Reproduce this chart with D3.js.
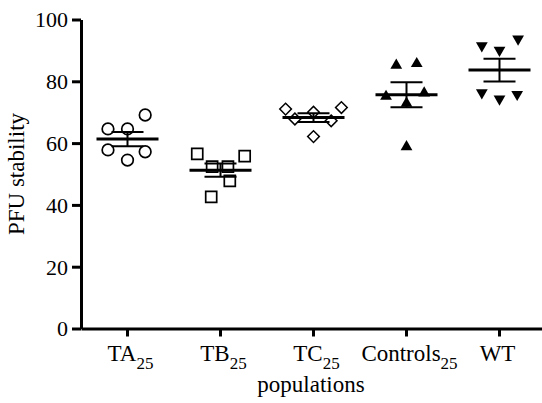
<!DOCTYPE html>
<html>
<head>
<meta charset="utf-8">
<script src="https://cdn.jsdelivr.net/npm/d3@7"></script>
<style>
  body { margin: 0; background: #fff; }
  text { font-family: "Liberation Serif", "Times New Roman", serif; fill: #000; }
</style>
</head>
<body>
<div id="chart"></div>
<script>
// groups on the x axis
let groups = ["TA", "TB", "TC", "Controls", "WT"];
let subs = ["25", "25", "25", "25", ""];

// PFU stability per replicate
let valsTA = [64.6, 64.6, 69.1, 57.8, 57.2, 54.5];
let valsTB = [56.5, 55.8, 52.4, 52.4, 47.8, 42.6];
let valsTC = [71.0, 71.5, 70.0, 67.8, 67.2, 62.1];
let valsControls = [85.2, 85.7, 75.1, 76.2, 72.9, 58.8];
let valsWT = [91.5, 90.1, 93.7, 76.3, 75.8, 74.3];

// horizontal scatter of each replicate, as a fraction of the band
let jitterTA = [-0.21, 0, 0.19, -0.21, 0.19, 0];
let jitterTB = [-0.25, 0.26, -0.09, 0.08, 0.1, -0.1];
let jitterTC = [-0.3, 0.3, 0, -0.2, 0.19, 0];
let jitterControls = [-0.11, 0.11, -0.22, 0.19, 0, 0];
let jitterWT = [-0.19, 0, 0.2, -0.19, 0.19, 0];

let yTicks = [0, 20, 40, 60, 80, 100];

let allVals = [valsTA, valsTB, valsTC, valsControls, valsWT];
let allJitter = [jitterTA, jitterTB, jitterTC, jitterControls, jitterWT];
let shapes = ["circle", "square", "diamond", "triangle", "triangleDown"];

const W = 542, H = 403;
const margin = {top: 19.5, left: 81, bottom: 74.5};

let svg = d3.select("#chart").append("svg")
    .attr("width", W)
    .attr("height", H);

let x = d3.scaleBand()
    .domain(groups)
    .range([margin.left, margin.left + 93 * groups.length])
    .padding(0);

let y = d3.scaleLinear()
    .domain([0, 100])
    .range([H - margin.bottom, margin.top]);

let bw = x.bandwidth();

// points
allVals.forEach((vals, gi) => {
    let cx = x(groups[gi]) + bw / 2;
    let g = svg.append("g");
    let shape = shapes[gi];
    vals.forEach((v, i) => {
        let px = cx + allJitter[gi][i] * bw;
        let py = y(v);
        if (shape === "circle") {
            g.append("circle")
                .attr("cx", px).attr("cy", py).attr("r", 5.8)
                .attr("fill", "none").attr("stroke", "#000").attr("stroke-width", 1.7);
        } else if (shape === "square") {
            g.append("path")
                .attr("d", d3.symbol().type(d3.symbolSquare).size(121)())
                .attr("transform", "translate(" + px + "," + py + ")")
                .attr("fill", "none").attr("stroke", "#000").attr("stroke-width", 1.7);
        } else if (shape === "diamond") {
            g.append("path")
                .attr("d", d3.symbol().type(d3.symbolSquare).size(68)())
                .attr("transform", "translate(" + px + "," + py + ") rotate(45)")
                .attr("fill", "none").attr("stroke", "#000").attr("stroke-width", 1.5);
        } else {
            let rot = shape === "triangleDown" ? 180 : 0;
            g.append("path")
                .attr("d", d3.symbol().type(d3.symbolTriangle).size(60)())
                .attr("transform", "translate(" + px + "," + py + ") rotate(" + rot + ")")
                .attr("fill", "#000");
        }
    });

    // mean and SEM
    let m = d3.mean(vals);
    let sem = d3.deviation(vals) / Math.sqrt(vals.length);
    g.append("line")
        .attr("x1", cx).attr("x2", cx)
        .attr("y1", y(m + sem)).attr("y2", y(m - sem))
        .attr("stroke", "#000").attr("stroke-width", 2);
    [m + sem, m - sem].forEach(s => {
        g.append("line")
            .attr("x1", cx - 16).attr("x2", cx + 16)
            .attr("y1", y(s)).attr("y2", y(s))
            .attr("stroke", "#000").attr("stroke-width", 2);
    });
    g.append("line")
        .attr("x1", cx - 31).attr("x2", cx + 31)
        .attr("y1", y(m)).attr("y2", y(m))
        .attr("stroke", "#000").attr("stroke-width", 3);
});

// y axis
let yAxis = svg.append("g")
    .attr("transform", "translate(" + margin.left + ",0)")
    .call(d3.axisLeft(y).tickValues(yTicks).tickSize(9).tickSizeOuter(0).tickPadding(4));
yAxis.selectAll("path, line").attr("stroke", "#000").attr("stroke-width", 3);
yAxis.selectAll("text")
    .attr("font-size", 22)
    .attr("dy", "0.34em");

// x axis
let xAxis = svg.append("g")
    .attr("transform", "translate(0," + y(0) + ")")
    .call(d3.axisBottom(x).tickSize(8).tickSizeOuter(0));
xAxis.selectAll("path, line").attr("stroke", "#000").attr("stroke-width", 3);
xAxis.selectAll("text").remove();
xAxis.selectAll(".tick").each(function(d, i) {
    let t = d3.select(this).append("text")
        .attr("y", 32)
        .attr("x", subs[i] ? 3 : -2)
        .attr("text-anchor", "middle")
        .attr("font-size", 23);
    t.append("tspan").text(d);
    if (subs[i]) {
        t.append("tspan").attr("dy", 8).attr("font-size", 17).text(subs[i]);
    }
});

// axis titles
svg.append("text")
    .attr("transform", "rotate(-90)")
    .attr("x", -(y(0) + y(100)) / 2)
    .attr("y", 24)
    .attr("text-anchor", "middle")
    .attr("font-size", 23)
    .text("PFU stability");

svg.append("text")
    .attr("x", 311)
    .attr("y", 392)
    .attr("text-anchor", "middle")
    .attr("font-size", 23)
    .text("populations");
</script>
</body>
</html>
